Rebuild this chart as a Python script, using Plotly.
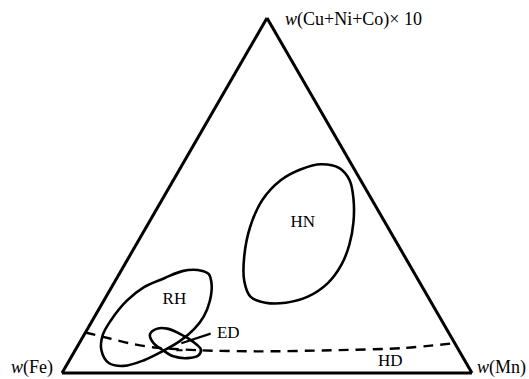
import plotly.graph_objects as go

# Ternary compositions (percent): a = w(Cu+Ni+Co)x10, b = w(Fe), c = w(Mn)

# HN field boundary
hn_a = [58.8, 57.7, 54.3, 49.0, 42.6, 36.2, 30.6, 25.4, 21.5, 19.8, 19.8, 21.5, 25.9, 32.9, 41.2, 48.8, 54.3, 57.4]
hn_b = [7.4, 3.5, 2.7, 4.4, 7.6, 11.8, 16.5, 22.4, 29.3, 35.5, 40.5, 43.3, 42.6, 39.1, 33.5, 26.7, 19.5, 13.0]
hn_c = [33.8, 38.8, 43.0, 46.6, 49.8, 52.0, 52.9, 52.2, 49.2, 44.7, 39.7, 35.2, 31.5, 28.0, 25.3, 24.5, 26.2, 29.6]

# RH field boundary
rh_a = [29.0, 27.9, 24.8, 20.3, 15.9, 12.3, 8.9, 6.1, 3.6, 2.0, 2.8, 6.4, 10.6, 14.8, 20.3, 24.2, 26.7, 28.7]
rh_b = [52.4, 50.3, 51.1, 53.8, 57.5, 61.7, 66.9, 72.5, 78.2, 83.9, 87.2, 87.2, 84.8, 80.7, 74.1, 67.9, 61.7, 56.3]
rh_c = [18.6, 21.8, 24.1, 25.9, 26.6, 26.0, 24.2, 21.4, 18.2, 14.1, 10.0, 6.4, 4.6, 4.5, 5.6, 7.9, 11.6, 15.0]

# ED field boundary
ed_a = [10.9, 12.5, 12.5, 11.1, 8.9, 6.7, 5.0, 4.2, 4.7, 6.7, 8.6]
ed_b = [73.1, 70.5, 68.1, 65.8, 63.7, 62.8, 64.2, 67.3, 70.5, 72.4, 73.5]
ed_c = [16.0, 17.0, 19.4, 23.1, 27.4, 30.5, 30.8, 28.5, 24.8, 20.9, 17.9]

# ED leader line and the small core mark inside the ED field
lead_a = [11.1, 8.4]
lead_b = [58.2, 66.7]
lead_c = [30.7, 24.9]
core_a = [6.4, 6.4]
core_b = [68.9, 67.4]
core_c = [24.7, 26.2]

# HD boundary (dashed), left edge to right edge
hd_a = [11.4, 9.8, 8.4, 7.2, 6.4, 6.1, 6.4, 7.0, 8.4]
hd_b = [88.6, 83.7, 79.5, 73.9, 63.2, 48.6, 31.1, 13.5, 0.0]
hd_c = [0.0, 6.5, 12.1, 18.9, 30.4, 45.3, 62.5, 79.5, 91.6]

# Field labels
lab_text = ["HN", "RH", "ED", "HD"]
lab_a = [42.3, 20.6, 11.1, 3.1]
lab_b = [20.1, 62.3, 53.9, 18.4]
lab_c = [37.6, 17.1, 35.0, 78.5]

corner_top = "<i>w</i>(Cu+Ni+Co)× 10"
corner_left = "<i>w</i>(Fe)"
corner_right = "<i>w</i>(Mn)"

FONT = "Liberation Serif, Times New Roman, serif"
INK = "#000000"


def closed(v):
    return list(v) + [v[0]]


fig = go.Figure()

for a, b, c in [(hn_a, hn_b, hn_c), (rh_a, rh_b, rh_c), (ed_a, ed_b, ed_c)]:
    fig.add_trace(go.Scatterternary(
        a=closed(a), b=closed(b), c=closed(c), mode="lines",
        line=dict(color=INK, width=2.6, shape="spline", smoothing=1.0),
        hoverinfo="skip"))

fig.add_trace(go.Scatterternary(
    a=lead_a, b=lead_b, c=lead_c, mode="lines",
    line=dict(color=INK, width=2.2), hoverinfo="skip"))
fig.add_trace(go.Scatterternary(
    a=core_a, b=core_b, c=core_c, mode="lines",
    line=dict(color=INK, width=2.0), hoverinfo="skip"))

fig.add_trace(go.Scatterternary(
    a=hd_a, b=hd_b, c=hd_c, mode="lines",
    line=dict(color=INK, width=2.4, dash="10px,7px", shape="spline", smoothing=0.8),
    hoverinfo="skip"))

fig.add_trace(go.Scatterternary(
    a=lab_a, b=lab_b, c=lab_c, mode="text", text=lab_text,
    textfont=dict(family=FONT, size=17, color=INK), hoverinfo="skip"))

axis_style = dict(showgrid=False, showticklabels=False, ticks="",
                  showline=True, linecolor=INK, linewidth=3,
                  title=dict(text=""))

fig.update_layout(
    width=529, height=379,
    margin=dict(l=0, r=0, t=0, b=0),
    paper_bgcolor="white",
    showlegend=False,
    ternary=dict(
        sum=100,
        bgcolor="white",
        domain=dict(x=[62 / 529, 472 / 529], y=[6 / 379, 361 / 379]),
        aaxis=axis_style, baxis=axis_style, caxis=axis_style,
    ),
    annotations=[
        dict(text=corner_top, x=283 / 529, y=1 - 20 / 379, xref="paper", yref="paper",
             xanchor="left", yanchor="middle", showarrow=False,
             font=dict(family=FONT, size=18, color=INK)),
        dict(text=corner_left, x=9 / 529, y=1 - 367 / 379, xref="paper", yref="paper",
             xanchor="left", yanchor="middle", showarrow=False,
             font=dict(family=FONT, size=18, color=INK)),
        dict(text=corner_right, x=528 / 529, y=1 - 367 / 379, xref="paper", yref="paper",
             xanchor="right", yanchor="middle", showarrow=False,
             font=dict(family=FONT, size=18, color=INK)),
    ],
)

fig.write_html("out.html", config={"displayModeBar": False})
